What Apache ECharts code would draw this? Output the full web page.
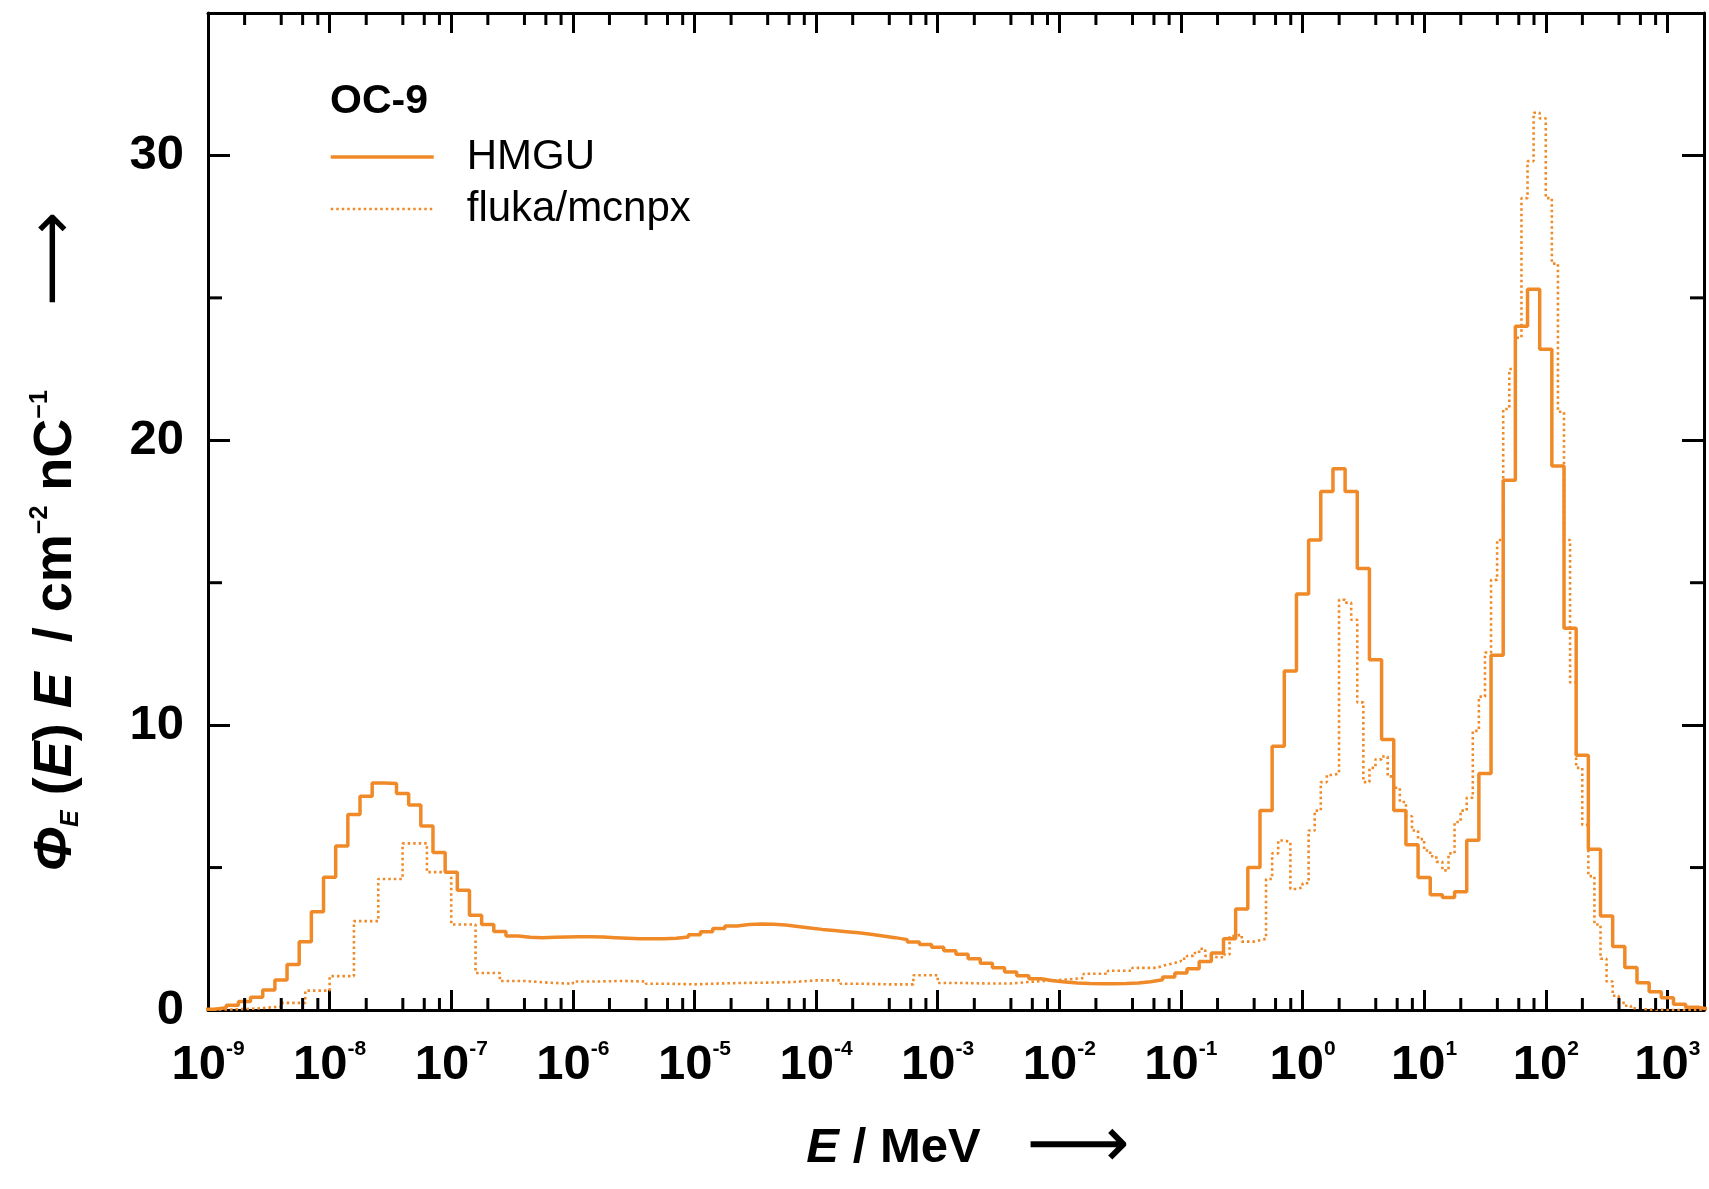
<!DOCTYPE html>
<html>
<head>
<meta charset="utf-8">
<script src="https://cdn.jsdelivr.net/npm/echarts@6/dist/echarts.min.js"></script>
<style>
  html, body { margin: 0; padding: 0; background: #ffffff; }
  #chart { width: 1709px; height: 1189px; }
</style>
</head>
<body>
<div id="chart"></div>
<script>
// Neutron fluence spectra in lethargy representation, position OC-9.
// Energies are handled as log10(E / MeV); each histogram segment is given by
// the lower edge of its first bin, a constant bin width in decades and the bin values.

// HMGU unfolded spectrum: 10 bins per decade
const hmguBinWidth = 0.1;
const hmguThermalStart = -9.05;
const hmguThermal = [0.03, 0.08, 0.17, 0.3, 0.45, 0.7, 1.05, 1.6, 2.4, 3.45,
  4.66, 5.76, 6.86, 7.5, 7.97, 7.95, 7.6, 7.2, 6.46, 5.53,
  4.84, 4.2, 3.33, 3.0, 2.76];
const hmguIntermediateStart = -6.55;
const hmguIntermediate = [2.6, 2.55, 2.54, 2.55, 2.56, 2.57, 2.57, 2.56, 2.54, 2.52,
  2.5, 2.5, 2.5, 2.52, 2.56, 2.64, 2.75, 2.86, 2.95, 3.0,
  3.02, 3.01, 2.98, 2.93, 2.88, 2.83, 2.79, 2.75, 2.71, 2.66,
  2.6, 2.54, 2.47, 2.39, 2.3, 2.2, 2.08, 1.96, 1.8, 1.64,
  1.48, 1.33, 1.2, 1.1, 1.03, 0.98, 0.95, 0.93, 0.92, 0.92,
  0.93, 0.95, 0.99, 1.06, 1.16];
const hmguFastStart = -1.05;
const hmguFast = [1.3, 1.45, 1.7, 2.0, 2.5, 3.55, 5.0, 7.0, 9.26, 11.9,
  14.6, 16.5, 18.2, 19.0, 18.2, 15.5, 12.3, 9.5, 7.0, 5.8,
  4.65, 4.05, 3.95, 4.15, 5.96, 8.3, 12.45, 18.6, 24.0, 25.3,
  23.2, 19.1, 13.4, 8.94, 5.64, 3.3, 2.23, 1.49, 0.96, 0.64,
  0.43, 0.2, 0.1, 0.03];

// FLUKA / MCNPX calculation: coarse bins below 0.06 MeV, fine bins above
const flukaLowStart = -9.0;
const flukaLowWidth = 0.2;
const flukaLow = [0.02, 0.05, 0.12, 0.25, 0.68, 1.19, 3.12, 4.6, 5.85, 4.84,
  3.0, 1.3, 1.02, 0.96, 0.92, 1.0, 1.02, 1.0, 0.92, 0.9,
  0.93, 0.95, 0.96, 0.98, 1.04, 1.04, 0.92, 0.9, 0.9, 1.22,
  0.95, 0.93, 0.93, 1.0, 1.05, 1.12, 1.27, 1.38, 1.48];
const flukaHighStart = -1.2;
const flukaHighWidth = 0.05;
const flukaHigh = [1.55, 1.6, 1.65, 1.72, 1.8, 1.9, 2.0, 2.15, 1.9, 1.85,
  1.85, 1.95, 2.6, 2.65, 2.4, 2.4, 2.45, 2.5, 4.6, 5.5,
  5.95, 5.9, 4.25, 4.3, 4.45, 6.3, 7.0, 8.0, 8.25, 8.3,
  14.4, 14.3, 13.7, 10.8, 8.0, 8.5, 8.8, 8.9, 8.2, 7.8,
  7.3, 6.8, 6.3, 6.0, 5.6, 5.4, 5.2, 4.9, 5.5, 6.6,
  7.0, 7.45, 9.8, 11.0, 12.55, 15.1, 16.5, 21.1, 22.5, 23.6,
  28.5, 29.8, 31.5, 31.3, 28.5, 26.2, 21.0, 16.5, 11.5, 8.5,
  6.5, 4.7, 3.0, 1.8, 1.0, 0.5, 0.25, 0.15, 0.06, 0.03,
  0.02, 0.01, 0.01, 0, 0, 0, 0, 0, 0, 0];

// Axis ticks
const xTickExponents = [-9, -8, -7, -6, -5, -4, -3, -2, -1, 0, 1, 2, 3];
const xMinorMantissas = [2, 4, 6, 8];
const yTickValues = [0, 10, 20, 30];
const yMinorValues = [5, 15, 25];
const xMinExp = -9;                 // 1e-9 MeV
const xMaxExp = Math.log10(2000);   // 2e3 MeV
const yMin = 0, yMax = 35;

const seriesNames = ['HMGU', 'fluka/mcnpx'];
const legendTitle = 'OC-9';

const FONT = 'Liberation Sans, Arial, Helvetica, sans-serif';
const ORANGE = '#f08a28';

// Turn binned segments into histogram corner points (lower edges + closing upper edge)
function stepPoints(segments) {
  const pts = [];
  segments.forEach(function (seg) {
    const start = seg[0], width = seg[1], values = seg[2];
    values.forEach(function (v, i) { pts.push([start + i * width, v]); });
  });
  const last = segments[segments.length - 1];
  const lv = last[2];
  pts.push([last[0] + lv.length * last[1], lv[lv.length - 1]]);
  return pts;
}

const hmguPoints = stepPoints([
  [hmguThermalStart, hmguBinWidth, hmguThermal],
  [hmguIntermediateStart, hmguBinWidth, hmguIntermediate],
  [hmguFastStart, hmguBinWidth, hmguFast]
]);
const flukaPoints = stepPoints([
  [flukaLowStart, flukaLowWidth, flukaLow],
  [flukaHighStart, flukaHighWidth, flukaHigh]
]);

// Logarithmic minor ticks at 2, 4, 6, 8 x 10^n
const xMinorTicks = [];
xTickExponents.forEach(function (e) {
  xMinorMantissas.forEach(function (m) {
    const v = e + Math.log10(m);
    if (v < xMaxExp) xMinorTicks.push([v, 0]);
  });
});
const yMinorTicks = yMinorValues.map(function (v) { return [xMinExp, v]; });

function powerLabel(value) {
  const r = Math.round(value);
  if (Math.abs(value - r) > 1e-6 || xTickExponents.indexOf(r) < 0) return '';
  return '{b|10}{s|' + r + '}';
}

const tickLine = { color: '#000', width: 3 };

function xAxisCfg(pos, withLabels) {
  return {
    type: 'value', min: xMinExp, max: xMaxExp, interval: 1,
    position: pos,
    axisLine: { show: true, onZero: false, lineStyle: tickLine },
    axisTick: { show: true, inside: true, length: 20, lineStyle: tickLine },
    splitLine: { show: false },
    minorTick: { show: false },
    axisLabel: withLabels ? {
      show: true, margin: 29, formatter: powerLabel,
      showMinLabel: true, showMaxLabel: true,
      color: '#000',
      rich: {
        b: { fontFamily: FONT, fontSize: 49, fontWeight: 'bold', color: '#000', lineHeight: 52 },
        s: { fontFamily: FONT, fontSize: 21, fontWeight: 'bold', color: '#000', lineHeight: 24, verticalAlign: 'top' }
      }
    } : { show: false }
  };
}

function yAxisCfg(pos, withLabels) {
  return {
    type: 'value', min: yMin, max: yMax, interval: 10,
    position: pos,
    axisLine: { show: true, onZero: false, lineStyle: tickLine },
    axisTick: { show: true, inside: true, length: 22, lineStyle: tickLine },
    splitLine: { show: false },
    axisLabel: withLabels ? {
      show: true, margin: 24, color: '#000',
      fontFamily: FONT, fontSize: 49, fontWeight: 'bold',
      formatter: function (v) { return yTickValues.indexOf(v) >= 0 ? String(v) : ''; }
    } : { show: false }
  };
}

const xNameAxis = xAxisCfg('bottom', true);
xNameAxis.name = '{it|E}{n| / MeV}{arr|  \u27F6}';
xNameAxis.nameLocation = 'middle';
xNameAxis.nameGap = 112;
xNameAxis.nameTextStyle = {
  color: '#000',
  padding: [0, 0, 0, 24],
  rich: {
    it: { fontFamily: FONT, fontSize: 49, fontWeight: 'bold', fontStyle: 'italic', color: '#000', lineHeight: 52 },
    n: { fontFamily: FONT, fontSize: 49, fontWeight: 'bold', color: '#000', lineHeight: 52 },
    arr: { fontFamily: 'DejaVu Sans', fontSize: 72, fontWeight: 'normal', color: '#000', lineHeight: 52 }
  }
};

const yNameAxis = yAxisCfg('left', true);
yNameAxis.name = '{it|\u03A6}{sub|E}{n| (}{it|E}{n|) }{it|E}{n|  / cm}{sup|\u22122}{n| nC}{sup|\u22121}{arr|    \u27F6}';
yNameAxis.nameLocation = 'middle';
yNameAxis.nameRotate = 90;
yNameAxis.nameGap = 124;
yNameAxis.nameTextStyle = {
  color: '#000',
  padding: [0, 60, 0, 0],
  rich: {
    it: { fontFamily: FONT, fontSize: 54, fontWeight: 'bold', fontStyle: 'italic', color: '#000', lineHeight: 56 },
    n: { fontFamily: FONT, fontSize: 54, fontWeight: 'bold', color: '#000', lineHeight: 56 },
    sub: { fontFamily: FONT, fontSize: 25, fontWeight: 'bold', fontStyle: 'italic', color: '#000', lineHeight: 24, verticalAlign: 'bottom' },
    sup: { fontFamily: FONT, fontSize: 25, fontWeight: 'bold', color: '#000', lineHeight: 26, verticalAlign: 'top' },
    arr: { fontFamily: 'DejaVu Sans', fontSize: 66, fontWeight: 'normal', color: '#000', lineHeight: 56 }
  }
};

const chart = echarts.init(document.getElementById('chart'), null, { renderer: 'canvas' });

chart.setOption({
  animation: false,
  backgroundColor: '#ffffff',
  title: {
    text: legendTitle, left: 330, top: 81, padding: 0,
    textStyle: { fontFamily: FONT, fontSize: 41, fontWeight: 'bold', color: '#000', lineHeight: 41 }
  },
  legend: {
    data: seriesNames,
    orient: 'vertical', left: 324, top: 130,
    itemWidth: 103, itemHeight: 10, itemGap: 8,
    itemStyle: { opacity: 0 },
    lineStyle: { width: 'inherit' },
    textStyle: { fontFamily: FONT, fontSize: 42, color: '#000', lineHeight: 44, padding: [0, 0, 0, 28] },
    selectedMode: false
  },
  grid: { left: 208, right: 5, top: 13, bottom: 168 },
  xAxis: [xNameAxis, xAxisCfg('top', false)],
  yAxis: [yNameAxis, yAxisCfg('right', false)],
  series: [
    {
      name: seriesNames[0], type: 'line', step: 'end',
      xAxisIndex: 0, yAxisIndex: 0,
      data: hmguPoints, symbol: 'none', clip: true,
      lineStyle: { color: ORANGE, width: 3.5, type: 'solid' },
      itemStyle: { color: ORANGE },
      z: 3
    },
    {
      name: seriesNames[1], type: 'line', step: 'end',
      xAxisIndex: 0, yAxisIndex: 0,
      data: flukaPoints, symbol: 'none', clip: true,
      lineStyle: { color: ORANGE, width: 2.6, type: [2.5, 3] },
      itemStyle: { color: ORANGE },
      z: 4
    },
    {
      // minor ticks of the logarithmic energy axis (bottom and top)
      type: 'custom', xAxisIndex: 0, yAxisIndex: 0, silent: true, z: 6,
      data: xMinorTicks,
      renderItem: function (params, api) {
        const x = api.value(0);
        const b = api.coord([x, yMin]);
        const t = api.coord([x, yMax]);
        const st = { stroke: '#000', lineWidth: 3 };
        return { type: 'group', children: [
          { type: 'line', shape: { x1: b[0], y1: b[1], x2: b[0], y2: b[1] - 12 }, style: st },
          { type: 'line', shape: { x1: t[0], y1: t[1], x2: t[0], y2: t[1] + 12 }, style: st }
        ] };
      }
    },
    {
      // minor ticks of the fluence axis (left and right)
      type: 'custom', xAxisIndex: 0, yAxisIndex: 0, silent: true, z: 6,
      data: yMinorTicks,
      renderItem: function (params, api) {
        const y = api.value(1);
        const l = api.coord([xMinExp, y]);
        const r = api.coord([xMaxExp, y]);
        const st = { stroke: '#000', lineWidth: 3 };
        return { type: 'group', children: [
          { type: 'line', shape: { x1: l[0], y1: l[1], x2: l[0] + 14, y2: l[1] }, style: st },
          { type: 'line', shape: { x1: r[0], y1: r[1], x2: r[0] - 14, y2: r[1] }, style: st }
        ] };
      }
    }
  ]
});
</script>
</body>
</html>
